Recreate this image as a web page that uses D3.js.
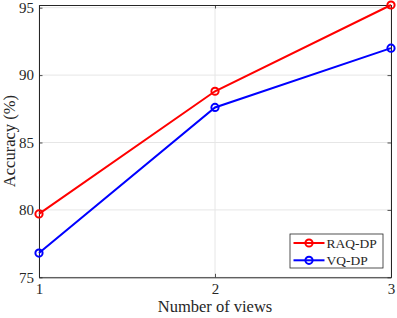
<!DOCTYPE html>
<html>
<head>
<meta charset="utf-8">
<script src="https://cdn.jsdelivr.net/npm/d3@7"></script>
<style>
html,body{margin:0;padding:0;background:#fff;}
svg{display:block;}
text{font-family:"Liberation Serif","Times New Roman",serif;fill:#262626;}
</style>
</head>
<body>
<svg id="chart" width="397" height="318"></svg>
<script>
const views = [1, 2, 3];
const raqDP = [79.7, 88.8, 95.2];
const vqDP = [76.8, 87.6, 92.0];
const xTicks = [1, 2, 3];
const yTicks = [75, 80, 85, 90, 95];
const seriesNames = ["RAQ-DP", "VQ-DP"];
const seriesColors = ["#ff0000", "#0000ff"];

const svg = d3.select("#chart");
const L = 39, R = 391, T = 5, B = 277.3;
const x = d3.scaleLinear().domain([1, 3]).range([L, R]);
const y = d3.scaleLinear().domain([75, 95.2]).range([B, T]);
const axisColor = "#262626";
const tickLen = 3.5;

// grid
const grid = svg.append("g");
grid.selectAll(".gy").data(yTicks).enter().append("line")
  .attr("x1", L).attr("x2", R)
  .attr("y1", d => y(d)).attr("y2", d => y(d))
  .attr("stroke", "#e6e6e6").attr("stroke-width", 1);
grid.selectAll(".gx").data(xTicks).enter().append("line")
  .attr("y1", T).attr("y2", B)
  .attr("x1", d => x(d)).attr("x2", d => x(d))
  .attr("stroke", "#e6e6e6").attr("stroke-width", 1);

// axes
const axB = d3.axisBottom(x).tickValues(xTicks).tickSizeInner(-tickLen).tickSizeOuter(0).tickPadding(6).tickFormat(d3.format("d"));
const axL = d3.axisLeft(y).tickValues(yTicks).tickSizeInner(-tickLen).tickSizeOuter(0).tickPadding(5).tickFormat(d3.format("d"));
const axT = d3.axisTop(x).tickValues(xTicks).tickSizeInner(-tickLen).tickSizeOuter(0).tickFormat("");
const axR = d3.axisRight(y).tickValues(yTicks).tickSizeInner(-tickLen).tickSizeOuter(0).tickFormat("");

function style(g) {
  g.attr("font-family", null).attr("font-size", null);
  g.selectAll("path").attr("stroke", axisColor).attr("stroke-width", 1);
  g.selectAll("line").attr("stroke", axisColor).attr("stroke-width", 0.8);
  g.selectAll("text").style("font-family", "'Liberation Serif', 'Times New Roman', serif")
    .style("font-size", "15px").attr("fill", axisColor);
}
svg.append("g").attr("transform", `translate(0,${B})`).call(axB).call(style);
svg.append("g").attr("transform", `translate(${L},0)`).call(axL).call(style);
svg.append("g").attr("transform", `translate(0,${T})`).call(axT).call(style);
svg.append("g").attr("transform", `translate(${R},0)`).call(axR).call(style);

// series
const allSeries = [raqDP, vqDP];
allSeries.forEach((vals, i) => {
  const pts = views.map((v, j) => [v, vals[j]]);
  svg.append("path").datum(pts)
    .attr("fill", "none").attr("stroke", seriesColors[i]).attr("stroke-width", 2)
    .attr("d", d3.line().x(d => x(d[0])).y(d => y(d[1])));
  svg.selectAll(null).data(pts).enter().append("circle")
    .attr("cx", d => x(d[0])).attr("cy", d => y(d[1])).attr("r", 3.6)
    .attr("fill", "none").attr("stroke", seriesColors[i]).attr("stroke-width", 2);
});

// labels
svg.append("text").attr("x", (L + R) / 2).attr("y", 312)
  .attr("text-anchor", "middle").style("font-size", "16.5px").text("Number of views");
svg.append("text").attr("transform", `translate(15,${(T + B) / 2}) rotate(-90)`)
  .attr("text-anchor", "middle").style("font-size", "16.5px").text("Accuracy (%)");

// legend
const lg = svg.append("g");
lg.append("rect").attr("x", 290).attr("y", 234).attr("width", 93).attr("height", 34)
  .attr("fill", "#fff").attr("stroke", axisColor).attr("stroke-width", 0.8);
seriesNames.forEach((name, i) => {
  const cy = 243 + i * 17.3;
  lg.append("line").attr("x1", 293.5).attr("x2", 324.5).attr("y1", cy).attr("y2", cy)
    .attr("stroke", seriesColors[i]).attr("stroke-width", 2);
  lg.append("circle").attr("cx", 309).attr("cy", cy).attr("r", 3.6)
    .attr("fill", "none").attr("stroke", seriesColors[i]).attr("stroke-width", 2);
  lg.append("text").attr("x", 326.5).attr("y", cy + 4.7).style("font-size", "13.5px").text(name);
});
</script>
</body>
</html>
